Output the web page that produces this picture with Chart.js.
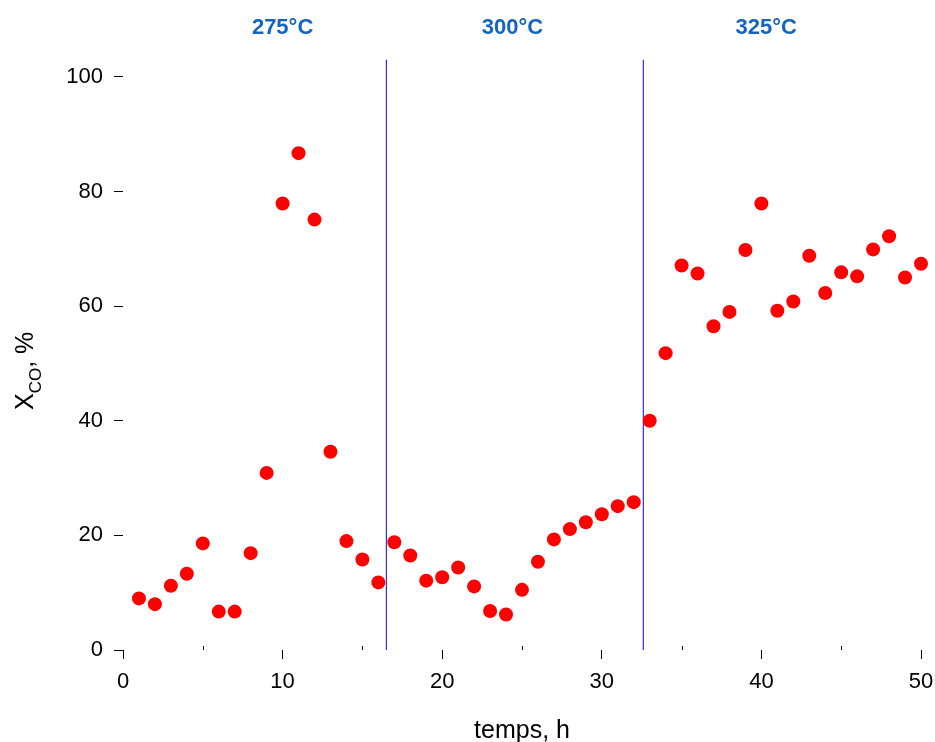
<!DOCTYPE html>
<html>
<head>
<meta charset="utf-8">
<script src="https://cdn.jsdelivr.net/npm/chart.js@4.4.0/dist/chart.umd.min.js"></script>
<style>
  html, body { margin: 0; padding: 0; background: #fff; }
</style>
</head>
<body>
<canvas id="xco-chart" width="935" height="742"></canvas>
<script>
// temps (h) / conversion CO (%)
var hours = [1, 2, 3, 4, 5, 6, 7, 8, 9, 10,
  11, 12, 13, 14, 15, 16, 17, 18, 19, 20,
  21, 22, 23, 24, 25, 26, 27, 28, 29, 30,
  31, 32, 33, 34, 35, 36, 37, 38, 39, 40,
  41, 42, 43, 44, 45, 46, 47, 48, 49, 50];
var conversion = [9.0, 8.0, 11.2, 13.3, 18.6, 6.7, 6.7, 16.9, 30.9, 77.9,
  86.7, 75.1, 34.6, 19.0, 15.8, 11.8, 18.8, 16.5, 12.1, 12.7,
  14.4, 11.1, 6.8, 6.2, 10.5, 15.4, 19.3, 21.1, 22.3, 23.7,
  25.1, 25.8, 40.0, 51.8, 67.1, 65.7, 56.5, 59.0, 69.8, 77.9,
  59.2, 60.8, 68.8, 62.3, 65.9, 65.2, 69.9, 72.2, 65.0, 67.4];

var xTicks = [0, 10, 20, 30, 40, 50];
var xMinorTicks = [5, 15, 25, 35, 45];
var yTicks = [0, 20, 40, 60, 80, 100];

// paliers de température
var stageBounds = [16.5, 32.6];
var stageLabels = ['275°C', '300°C', '325°C'];
var stageLabelX = [10, 24.4, 40.3];

Chart.defaults.font.family = "'Liberation Sans', Arial, sans-serif";
Chart.defaults.color = '#000';

var extras = {
  id: 'extras',
  beforeDatasetsDraw: function(chart) {
    var ctx = chart.ctx, xs = chart.scales.x, ys = chart.scales.y;
    ctx.save();
    // séparations entre paliers
    ctx.strokeStyle = '#0000ff';
    ctx.lineWidth = 1;
    stageBounds.forEach(function(b) {
      var px = xs.getPixelForValue(b);
      ctx.beginPath();
      ctx.moveTo(px, ys.getPixelForValue(0));
      ctx.lineTo(px, ys.getPixelForValue(103));
      ctx.stroke();
    });
    // petites graduations
    ctx.strokeStyle = '#000';
    var y0 = ys.getPixelForValue(0);
    xMinorTicks.forEach(function(v) {
      var px = Math.round(xs.getPixelForValue(v)) + 0.5;
      ctx.beginPath();
      ctx.moveTo(px, y0);
      ctx.lineTo(px, y0 - 4);
      ctx.stroke();
    });
    ctx.restore();
  },
  afterDraw: function(chart) {
    var ctx = chart.ctx, xs = chart.scales.x;
    ctx.save();
    // étiquettes de température
    ctx.fillStyle = '#1565c0';
    ctx.font = "bold 22px 'Liberation Sans', Arial, sans-serif";
    ctx.textAlign = 'center';
    ctx.textBaseline = 'alphabetic';
    stageLabels.forEach(function(t, i) {
      ctx.fillText(t, xs.getPixelForValue(stageLabelX[i]), 34);
    });
    // titre axe y : X_CO, %
    ctx.fillStyle = '#000';
    ctx.translate(33, 410);
    ctx.rotate(-Math.PI / 2);
    ctx.textAlign = 'left';
    var big = "25px 'Liberation Sans', Arial, sans-serif";
    var small = "17px 'Liberation Sans', Arial, sans-serif";
    ctx.font = big;
    ctx.fillText('X', 0, 0);
    var w = ctx.measureText('X').width;
    ctx.font = small;
    ctx.fillText('CO', w, 8);
    w += ctx.measureText('CO').width;
    ctx.font = big;
    ctx.fillText(', %', w, 0);
    ctx.restore();
  }
};

new Chart(document.getElementById('xco-chart'), {
  type: 'scatter',
  data: {
    datasets: [{
      data: hours.map(function(h, i) { return { x: h, y: conversion[i] }; }),
      backgroundColor: '#ff0000',
      borderWidth: 0,
      pointRadius: 7,
      pointHoverRadius: 7,
      clip: false
    }]
  },
  options: {
    responsive: false,
    animation: false,
    devicePixelRatio: 1,
    layout: { padding: { top: 54, right: 14, left: 0, bottom: 0 } },
    plugins: { legend: { display: false }, tooltip: { enabled: false } },
    scales: {
      x: {
        type: 'linear',
        min: 0,
        max: 50,
        afterBuildTicks: function(scale) {
          scale.ticks = xTicks.map(function(v) { return { value: v }; });
        },
        afterFit: function(scale) {
          scale.height = 92;
          scale.paddingLeft = 0;
          scale.paddingRight = 0;
        },
        border: { display: false },
        grid: { drawOnChartArea: false, drawTicks: true, tickLength: 9, color: '#000' },
        ticks: { font: { size: 22 }, padding: 10, maxRotation: 0 },
        title: {
          display: true,
          text: 'temps, h',
          font: { size: 25 },
          padding: { top: 0, bottom: -4 }
        }
      },
      y: {
        min: 0,
        max: 104,
        afterBuildTicks: function(scale) {
          scale.ticks = yTicks.map(function(v) { return { value: v }; });
        },
        afterFit: function(scale) {
          scale.width = 123;
          scale.paddingTop = 0;
          scale.paddingBottom = 0;
        },
        border: { display: false },
        grid: { drawOnChartArea: false, drawTicks: true, tickLength: 9, color: '#000' },
        ticks: { font: { size: 22 }, padding: 11 }
      }
    }
  },
  plugins: [extras]
});
</script>
</body>
</html>
